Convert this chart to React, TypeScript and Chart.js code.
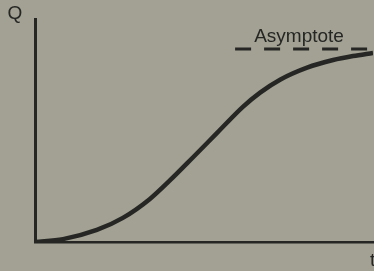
import React, { useEffect, useRef } from "react";
import { Chart, registerables } from "chart.js";

Chart.register(...registerables);

const tValues = [0, 8.3, 18.3, 26.0, 34.0, 39.9, 46.7, 53.8, 61.5, 66.6, 72.5, 80.5, 88.2, 94.1, 100];
const qValues = [0, 1.3, 5.4, 10.8, 19.3, 27.6, 37.9, 48.8, 60.6, 67.0, 72.8, 78.2, 81.6, 83.4, 84.8];
const asymptoteT = [59.2, 100];
const asymptoteQ = [86.5, 86.5];
const axisLabels = { y: "Q", x: "t" };
const asymptoteLabel = "Asymptote";

const INK = "#262624";

const textPlugin = {
  id: "labels",
  afterDraw(chart: any) {
    const { ctx, chartArea, scales } = chart;
    ctx.save();
    ctx.fillStyle = INK;
    ctx.font = '19px "Liberation Sans", Arial, sans-serif';
    ctx.textBaseline = "middle";
    ctx.textAlign = "center";
    ctx.fillText(axisLabels.y, chartArea.left - 20, chartArea.top - 5);
    ctx.textAlign = "left";
    ctx.fillText(axisLabels.x, chartArea.right - 3, chartArea.bottom + 19);
    ctx.textAlign = "center";
    const xMid = (scales.x.getPixelForValue(asymptoteT[0]) + scales.x.getPixelForValue(asymptoteT[1])) / 2;
    ctx.fillText(asymptoteLabel, xMid - 5, scales.y.getPixelForValue(asymptoteQ[0]) - 12);
    ctx.restore();
  },
};

export default function App() {
  const ref = useRef<HTMLCanvasElement>(null);
  useEffect(() => {
    if (!ref.current) return;
    const chart = new Chart(ref.current, {
      type: "line",
      data: {
        datasets: [
          {
            data: tValues.map((t, i) => ({ x: t, y: qValues[i] })),
            borderColor: INK,
            borderWidth: 4.5,
            pointRadius: 0,
            cubicInterpolationMode: "monotone",
            fill: false,
          },
          {
            data: asymptoteT.map((t, i) => ({ x: t, y: asymptoteQ[i] })),
            borderColor: INK,
            borderWidth: 3,
            borderDash: [16, 13],
            pointRadius: 0,
            fill: false,
          },
        ],
      },
      plugins: [textPlugin],
      options: {
        animation: false,
        responsive: false,
        maintainAspectRatio: false,
        layout: { padding: { left: 35, right: 1, top: 19, bottom: 29 } },
        plugins: { legend: { display: false }, tooltip: { enabled: false } },
        scales: {
          x: {
            type: "linear",
            min: 0,
            max: 100,
            grid: { display: false, drawTicks: false },
            ticks: { display: false },
            border: { display: true, color: INK, width: 2.5 },
          },
          y: {
            type: "linear",
            min: 0,
            max: 100,
            grid: { display: false, drawTicks: false },
            ticks: { display: false },
            border: { display: true, color: INK, width: 3 },
          },
        },
      },
    });
    return () => chart.destroy();
  }, []);
  return (
    <div style={{ position: "fixed", left: 0, top: 0, width: 374, height: 271, background: "#a2a193" }}>
      <canvas ref={ref} width={374} height={271} style={{ display: "block", width: 374, height: 271 }} />
    </div>
  );
}
